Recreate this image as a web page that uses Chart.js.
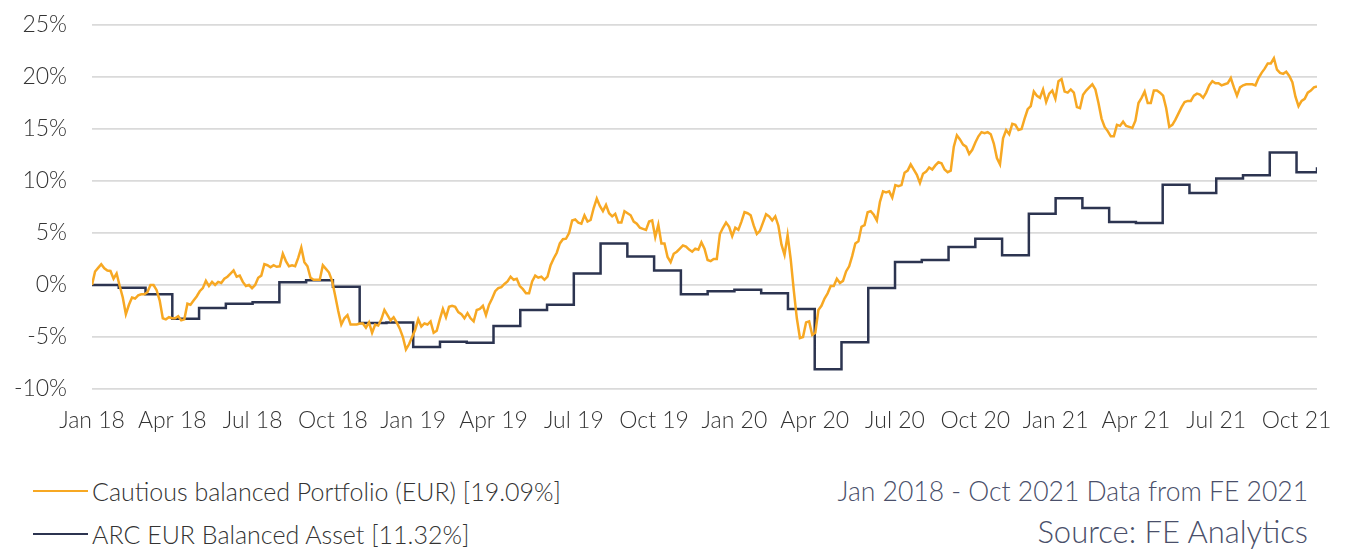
<!DOCTYPE html>
<html><head><meta charset="utf-8">
<script src="https://cdn.jsdelivr.net/npm/chart.js@4.4.1/dist/chart.umd.min.js"></script>
<style>
html,body{margin:0;padding:0;background:#fff;}
body{width:1352px;height:549px;position:relative;overflow:hidden;font-family:Lato,'Open Sans',sans-serif;font-weight:300;}
#wrap{position:absolute;left:0;top:0;width:1352px;height:445px;}
.leg{position:absolute;left:33px;font-size:25px;line-height:30px;color:#333;display:flex;align-items:center;white-space:nowrap;}
.leg i{display:inline-block;width:55px;height:2.5px;margin-right:4px;}
.src{position:absolute;right:44px;color:#4a4f6a;white-space:nowrap;}
</style></head>
<body>
<div id="wrap"><canvas id="c" width="1352" height="445"></canvas></div>
<div id="legend"></div>
<div class="src" id="s1" style="top:475px;font-size:26.5px;line-height:32px"></div>
<div class="src" id="s2" style="top:513px;font-size:31px;line-height:36px"></div>
<script>
// ---- data ----
const quarterLabels = ['Jan 18','Apr 18','Jul 18','Oct 18','Jan 19','Apr 19','Jul 19','Oct 19','Jan 20','Apr 20','Jul 20','Oct 20','Jan 21','Apr 21','Jul 21','Oct 21'];
const seriesNames = ['Cautious balanced Portfolio (EUR) [19.09%]','ARC EUR Balanced Asset [11.32%]'];
const sourceLines = ['Jan 2018 - Oct 2021 Data from FE 2021','Source: FE Analytics'];
// cumulative return (%), Cautious balanced Portfolio, read twice a week (Jan 2018 -> end Oct 2021)
const portfolioValues = [
 0,1.3,1.65,2.0,1.6,1.4,1.35,0.6,1.1,-0.1,
 -1.2,-2.8,-1.9,-1.2,-1.3,-1.0,-0.9,-0.9,-0.7,0.0,
 0.0,-0.5,-1.5,-3.2,-3.3,-3.1,-3.2,-3.2,-3.0,-3.4,
 -3.3,-1.8,-1.9,-1.5,-1.1,-0.6,-0.3,0.4,-0.1,0.3,
 0.0,0.3,0.2,0.6,0.8,1.1,1.4,0.8,0.9,0.3,
 -0.1,0.0,-0.3,0.0,0.7,0.9,2.0,1.9,1.7,1.9,
 1.75,1.8,3.0,2.3,1.8,1.9,1.8,2.6,3.6,2.2,
 1.8,0.7,0.5,0.5,0.5,1.9,1.55,1.2,0.4,-1.0,
 -2.5,-3.8,-3.2,-2.9,-3.8,-3.8,-3.8,-3.7,-3.7,-4.1,
 -3.6,-4.6,-3.8,-3.9,-3.3,-2.4,-2.9,-3.4,-3.1,-3.6,
 -4.2,-5.0,-6.2,-5.7,-5.0,-4.3,-3.3,-4.0,-3.7,-3.8,
 -3.5,-4.6,-4.4,-3.3,-2.3,-3.1,-2.1,-2.0,-2.1,-2.6,
 -2.8,-3.2,-2.7,-3.2,-3.5,-2.4,-2.3,-2.0,-2.9,-1.9,
 -1.3,-0.6,-0.3,-0.2,0.1,0.35,0.8,0.5,0.6,-0.1,
 -0.4,-0.8,-0.8,0.35,0.9,0.7,0.8,0.5,0.8,1.9,
 2.55,3.1,4.0,4.4,4.45,5.0,6.2,6.3,6.0,5.9,
 6.7,6.1,6.25,7.4,8.3,7.6,7.1,7.7,6.9,6.6,
 6.85,6.0,6.0,7.1,6.9,6.7,6.1,5.9,5.5,5.4,
 5.3,6.1,6.2,4.6,5.8,4.0,4.0,2.7,2.2,3.0,
 3.2,3.5,3.8,3.7,3.4,3.2,3.5,3.4,4.1,3.5,
 2.4,2.3,2.5,2.5,4.9,5.5,6.0,5.6,4.7,5.5,
 5.3,6.1,7.0,6.9,6.7,5.7,4.9,5.2,6.0,6.8,
 6.6,6.2,6.6,5.7,3.9,2.9,4.8,2.5,-0.5,-3.2,
 -5.1,-5.0,-3.6,-3.5,-4.8,-4.6,-2.4,-2.0,-1.3,-0.8,
 -0.1,-0.1,0.6,0.2,0.4,1.3,1.8,2.8,4.0,4.2,
 5.6,5.75,7.0,7.1,6.75,6.2,8.0,9.0,8.9,9.0,
 8.4,9.6,9.5,9.6,10.8,11.0,11.6,11.1,10.6,9.8,
 10.7,10.9,11.3,11.1,11.5,11.8,11.7,11.1,10.85,11.0,
 13.3,14.4,14.0,13.5,13.3,12.6,13.0,13.7,14.3,14.7,
 14.6,14.7,14.5,13.6,12.2,11.6,14.1,14.9,14.5,15.5,
 15.4,14.9,15.0,16.0,16.9,17.2,18.6,18.2,18.0,18.8,
 17.6,18.4,18.7,17.9,19.6,19.8,18.6,18.5,18.8,18.5,
 17.1,17.0,18.3,18.7,19.0,19.3,18.8,17.5,16.0,15.2,
 14.8,14.3,14.3,15.4,15.3,15.7,15.3,15.2,15.1,15.8,
 17.5,18.0,18.6,17.5,17.5,18.7,18.7,18.5,18.2,17.0,
 15.2,15.4,15.9,16.5,17.1,17.6,17.7,17.7,18.2,18.4,
 18.3,18.0,18.5,19.2,19.6,19.4,19.4,19.2,19.3,19.4,
 19.9,19.0,18.2,19.0,19.2,19.3,19.3,19.3,19.2,19.9,
 20.4,20.8,21.3,21.3,21.8,20.7,20.4,20.3,20.5,20.1,
 19.5,18.1,17.2,17.7,17.9,18.5,18.7,19.0,19.09
];
// monthly cumulative return (%), ARC EUR Balanced Asset (value held through each month)
const arcMonthly = [
 0.0,-0.27,-0.9,-3.25,-2.2,-1.8,-1.65,0.27,0.45,-0.17,-3.65,-3.6,
 -5.95,-5.45,-5.55,-3.95,-2.4,-1.9,1.1,4.0,2.75,1.4,-0.9,-0.6,
 -0.45,-0.8,-2.3,-8.1,-5.5,-0.3,2.2,2.4,3.65,4.45,2.85,6.85,
 8.35,7.4,6.05,5.95,9.65,8.85,10.25,10.55,12.75,10.85
];
const arcFinal = 11.32;
const yTicks = [-10,-5,0,5,10,15,20,25];

// ---- build ----
const POINTS_PER_MONTH = 2*52.18/12;   // two readings per week
const portfolioPts = portfolioValues.map((v,i)=>({x:i/POINTS_PER_MONTH, y:v}));
const endX = (portfolioValues.length-1)/POINTS_PER_MONTH;
const arcPts = arcMonthly.map((v,m)=>({x:m, y:v}));
arcPts.push({x:endX, y:arcFinal});

const colors = ['#f7a823','#2c3450'];
const FONT = {family:"Lato, 'Open Sans', sans-serif", size:23, weight:'300'};

const chart = new Chart(document.getElementById('c'), {
  type:'line',
  data:{datasets:[
    {label:seriesNames[0], data:portfolioPts, borderColor:colors[0], borderWidth:2.5, pointRadius:0, tension:0},
    {label:seriesNames[1], data:arcPts, borderColor:colors[1], borderWidth:2.5, pointRadius:0, stepped:'before'}
  ]},
  options:{
    responsive:false, animation:false, events:[],
    layout:{padding:{top:25,right:35,left:0,bottom:0}},
    plugins:{legend:{display:false}, tooltip:{enabled:false}},
    scales:{
      x:{type:'linear', min:0, max:endX,
        grid:{display:false, drawTicks:false}, border:{display:false},
        afterBuildTicks:(s)=>{s.ticks = quarterLabels.map((l,k)=>({value:3*k}));},
        afterFit:(s)=>{s.height = 56;},
        ticks:{autoSkip:false, maxRotation:0, padding:18, color:'#333', font:FONT,
          callback:(v,i)=>quarterLabels[i]}
      },
      y:{type:'linear', min:-10, max:25,
        grid:{color:'#dadada', lineWidth:1.8, drawTicks:false}, border:{display:false},
        afterBuildTicks:(s)=>{s.ticks = yTicks.map(v=>({value:v}));},
        afterFit:(s)=>{s.width = 92; s.paddingTop = 0; s.paddingBottom = 0;},
        ticks:{padding:25, color:'#333', font:FONT, callback:(v)=>v+'%'}
      }
    }
  }
});

// legend + source text (HTML)
const lg = document.getElementById('legend');
chart.data.datasets.forEach((d,k)=>{
  const row = document.createElement('div');
  row.className='leg'; row.style.top = (476 + k*43)+'px';
  const sw = document.createElement('i'); sw.style.background = d.borderColor;
  row.appendChild(sw); row.appendChild(document.createTextNode(d.label));
  lg.appendChild(row);
});
document.getElementById('s1').textContent = sourceLines[0];
document.getElementById('s2').textContent = sourceLines[1];
</script>
</body></html>
